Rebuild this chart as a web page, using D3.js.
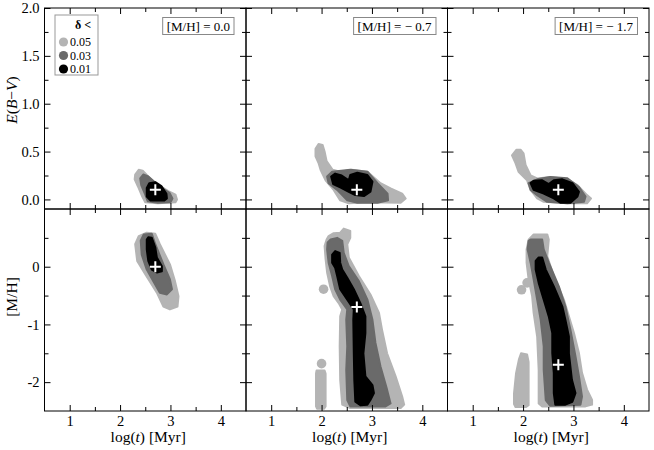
<!DOCTYPE html>
<html><head><meta charset="utf-8">
<script src="https://cdn.jsdelivr.net/npm/d3@7"></script>
<style>body{margin:0;background:#fff}svg{display:block}text{font-family:"Liberation Serif","DejaVu Serif",serif}</style>
</head><body><svg id="c" width="654" height="450"></svg>
<script>
// ---------- data ----------
const xTicks = [1, 2, 3, 4];
const xTickLabels = ["1", "2", "3", "4"];
const eTicks = [0.0, 0.5, 1.0, 1.5, 2.0];
const eTickLabels = ["0.0", "0.5", "1.0", "1.5", "2.0"];
const mTicks = [0, -1, -2];
const mTickLabels = ["0", "-1", "-2"];
const panelLabels = ["[M/H] = 0.0", "[M/H] = \u2212 0.7", "[M/H] = \u2212 1.7"];
const trueAge = [2.7, 2.7, 2.7];
const trueEBV = [0.1, 0.1, 0.1];
const trueMH = [0.0, -0.7, -1.7];
const legendLevels = ["0.05", "0.03", "0.01"];

// E(B-V) vs log t regions, outer outlines [logt, E(B-V)] per panel: [delta<0.05, <0.03, <0.01]
const ebvP1 = [
  [[2.30,0.26],[2.37,0.31],[2.45,0.30],[2.65,0.19],[2.95,0.09],[3.10,0.05],[3.13,0.00],[3.10,-0.03],[2.75,-0.04],[2.50,-0.03],[2.44,0.03],[2.36,0.13],[2.29,0.21]],
  [[2.40,0.22],[2.46,0.26],[2.56,0.24],[2.80,0.13],[2.98,0.07],[3.04,0.01],[3.00,-0.03],[2.75,-0.035],[2.55,-0.02],[2.50,0.05],[2.42,0.15]],
  [[2.53,0.12],[2.58,0.17],[2.70,0.18],[2.82,0.14],[2.92,0.06],[2.93,0.01],[2.88,-0.01],[2.60,-0.01],[2.53,0.03]]
];
const ebvP2 = [
  [[1.88,0.53],[1.94,0.58],[2.02,0.57],[2.06,0.50],[2.10,0.40],[2.22,0.31],[2.37,0.29],[2.60,0.31],[2.91,0.29],[3.17,0.17],[3.37,0.115],[3.60,0.06],[3.67,0.01],[3.57,-0.035],[2.91,-0.03],[2.54,-0.04],[2.37,-0.01],[2.24,0.10],[2.08,0.20],[1.98,0.31],[1.94,0.38],[1.88,0.45]],
  [[2.11,0.24],[2.21,0.29],[2.57,0.31],[2.91,0.29],[3.11,0.17],[3.31,0.06],[3.32,-0.01],[3.11,-0.035],[2.71,-0.035],[2.51,-0.01],[2.31,0.10],[2.14,0.17]],
  [[2.19,0.24],[2.27,0.27],[2.40,0.25],[2.54,0.20],[2.57,0.255],[2.71,0.28],[2.91,0.255],[3.01,0.185],[2.97,0.08],[2.84,0.035],[2.67,0.045],[2.54,0.08],[2.37,0.125],[2.23,0.16]]
];
const ebvP3 = [
  [[1.78,0.46],[1.87,0.52],[1.95,0.52],[2.01,0.48],[2.05,0.36],[2.15,0.25],[2.28,0.22],[2.54,0.235],[2.88,0.21],[3.08,0.15],[3.27,0.045],[3.35,0.01],[3.27,-0.04],[2.88,-0.04],[2.41,-0.025],[2.28,0.01],[2.15,0.10],[2.08,0.20],[1.91,0.29],[1.85,0.38]],
  [[2.11,0.17],[2.28,0.21],[2.54,0.235],[2.88,0.22],[3.11,0.13],[3.24,0.03],[3.21,-0.025],[2.88,-0.04],[2.48,-0.025],[2.28,0.045],[2.15,0.10]],
  [[2.15,0.17],[2.21,0.195],[2.38,0.20],[2.51,0.16],[2.61,0.20],[2.78,0.21],[2.98,0.17],[3.11,0.08],[3.08,0.03],[2.94,-0.035],[2.74,-0.035],[2.61,0.01],[2.41,0.06],[2.21,0.10]]
];
// [M/H] vs log t regions
const mhP1 = [
  [[2.30,0.39],[2.37,0.53],[2.53,0.59],[2.70,0.57],[2.79,0.39],[2.99,0.04],[3.09,-0.25],[3.16,-0.51],[3.14,-0.69],[2.99,-0.74],[2.86,-0.69],[2.73,-0.45],[2.50,-0.13],[2.34,0.10]],
  [[2.41,0.45],[2.47,0.56],[2.63,0.57],[2.70,0.39],[2.86,0.04],[2.99,-0.22],[3.03,-0.39],[2.93,-0.48],[2.79,-0.45],[2.66,-0.25],[2.53,-0.05],[2.43,0.21]],
  [[2.53,0.47],[2.56,0.51],[2.63,0.50],[2.70,0.33],[2.73,0.16],[2.83,0.01],[2.83,-0.08],[2.73,-0.10],[2.63,-0.05],[2.56,0.10],[2.53,0.30]]
];
const mhP2 = [
  [[2.10,0.47],[2.14,0.53],[2.24,0.58],[2.37,0.59],[2.44,0.66],[2.57,0.62],[2.57,0.50],[2.51,0.39],[2.54,0.16],[2.74,-0.16],[2.97,-0.48],[3.14,-0.80],[3.20,-1.09],[3.30,-1.50],[3.47,-1.90],[3.60,-2.25],[3.64,-2.39],[3.57,-2.45],[2.57,-2.45],[2.41,-2.39],[2.37,-1.96],[2.36,-1.38],[2.37,-0.86],[2.41,-0.74],[2.34,-0.63],[2.24,-0.51],[2.17,-0.34],[2.11,-0.10],[2.08,0.13],[2.06,0.36]],
  [[2.12,0.42],[2.18,0.47],[2.31,0.50],[2.41,0.45],[2.44,0.24],[2.54,0.01],[2.74,-0.25],[2.91,-0.57],[3.01,-0.92],[3.07,-1.32],[3.17,-1.73],[3.30,-2.13],[3.37,-2.37],[3.27,-2.42],[2.57,-2.42],[2.51,-2.31],[2.49,-1.79],[2.51,-1.38],[2.49,-0.92],[2.51,-0.74],[2.37,-0.57],[2.27,-0.39],[2.21,-0.16],[2.14,0.07],[2.11,0.30]],
  [[2.21,0.21],[2.27,0.27],[2.36,0.24],[2.37,0.07],[2.41,-0.05],[2.51,-0.19],[2.64,-0.39],[2.77,-0.63],[2.87,-0.86],[2.87,-1.15],[2.83,-1.50],[2.87,-1.90],[3.01,-2.05],[3.04,-2.19],[2.97,-2.31],[2.91,-2.39],[2.77,-2.40],[2.67,-2.34],[2.65,-1.96],[2.64,-1.50],[2.63,-0.92],[2.64,-0.74],[2.51,-0.57],[2.37,-0.39],[2.31,-0.16],[2.27,-0.02],[2.21,0.07]]
];
const mhP3 = [
  [[2.07,0.30],[2.11,0.47],[2.21,0.56],[2.48,0.56],[2.51,0.47],[2.48,0.18],[2.61,-0.16],[2.81,-0.57],[2.91,-0.86],[3.01,-1.15],[3.11,-1.50],[3.17,-1.84],[3.27,-2.13],[3.37,-2.31],[3.37,-2.39],[3.24,-2.42],[2.38,-2.42],[2.31,-2.37],[2.31,-1.79],[2.28,-1.21],[2.21,-0.80],[2.18,-0.51],[2.11,-0.22],[2.07,0.07]],
  [[2.11,0.45],[2.15,0.47],[2.38,0.47],[2.41,0.30],[2.51,0.07],[2.71,-0.34],[2.84,-0.69],[2.94,-1.09],[3.04,-1.55],[3.11,-1.90],[3.17,-2.25],[3.14,-2.39],[2.54,-2.41],[2.45,-2.31],[2.41,-1.79],[2.41,-1.38],[2.35,-0.92],[2.28,-0.57],[2.21,-0.22],[2.15,0.07],[2.09,0.30]],
  [[2.25,0.10],[2.31,0.16],[2.38,0.16],[2.45,-0.05],[2.61,-0.34],[2.78,-0.69],[2.84,-0.92],[2.91,-1.21],[2.91,-1.50],[2.97,-1.96],[3.04,-2.19],[2.98,-2.34],[2.84,-2.39],[2.64,-2.39],[2.61,-2.19],[2.61,-1.84],[2.58,-1.50],[2.58,-1.15],[2.51,-0.86],[2.41,-0.57],[2.31,-0.28],[2.25,-0.05]]
];
// isolated light (delta<0.05) patches in the [M/H] panels
const mhP2Extra = [
  [[1.90,-1.80],[2.06,-1.80],[2.08,-1.85],[2.08,-2.42],[2.05,-2.46],[1.91,-2.46],[1.89,-2.42],[1.89,-1.85]]
];
const mhP3Extra = [
  [[1.96,-1.50],[2.08,-1.52],[2.11,-1.65],[2.11,-2.40],[2.06,-2.43],[1.85,-2.43],[1.82,-2.38],[1.82,-2.20],[1.86,-1.85],[1.92,-1.60]]
];
const mhP2Dots = [[2.04,-0.39],[2.00,-1.68]];
const mhP3Dots = [[1.97,-0.40],[2.08,-0.28]];

// ---------- drawing ----------
const svg = d3.select("#c");
const fills = ["#b4b4b4", "#6a6a6a", "#000000"];
const panelX = [44.5, 246, 447.5], pw = 201.5;
const yTop0 = 8, yMid = 209, yBot = 411;
const yE = d3.scaleLinear().domain([-0.1, 2.0]).range([yMid, yTop0]);
const yM = d3.scaleLinear().domain([-2.5, 1.0]).range([yBot, yMid]);
const xs = panelX.map(px => d3.scaleLinear().domain([0.5, 4.5]).range([px, px + pw]));
const ebv = [ebvP1, ebvP2, ebvP3], mh = [mhP1, mhP2, mhP3];
const extras = [[], mhP2Extra, mhP3Extra], dots = [[], mhP2Dots, mhP3Dots];

function drawRegions(g, x, y, regions, extraPolys, extraDots) {
  const line = d3.line().x(d => x(d[0])).y(d => y(d[1])).curve(d3.curveLinearClosed);
  (extraPolys || []).forEach(p => g.append("path").attr("d", line(p)).attr("fill", fills[0]).attr("stroke", fills[0]).attr("stroke-width", 2).attr("stroke-linejoin", "round"));
  (extraDots || []).forEach(d => g.append("circle").attr("cx", x(d[0])).attr("cy", y(d[1])).attr("r", 4.8).attr("fill", fills[0]));
  regions.forEach((p, i) => g.append("path").attr("d", line(p)).attr("fill", fills[i]).attr("stroke", fills[i]).attr("stroke-width", 2).attr("stroke-linejoin", "round"));
}
function plus(g, x, y, a, b) {
  const cx = x(a), cy = y(b);
  g.append("path").attr("d", `M${cx-5.5},${cy}H${cx+5.5}M${cx},${cy-5.5}V${cy+5.5}`).attr("stroke", "#fff").attr("stroke-width", 2);
}
function axes(g, x, y, yMajor, yMinor, yLabels, showY, showX) {
  const y0 = y.range()[1], y1 = y.range()[0];
  const x0 = x.range()[0], x1 = x.range()[1];
  const xMinor = [1.5, 2.5, 3.5];
  const mk = (ax, sel) => { sel.call(ax); sel.select(".domain").remove(); sel.selectAll("line").attr("stroke", "#000"); sel.selectAll("text").attr("font-size", 14.5).attr("fill", "#000").attr("font-family", "Liberation Serif, serif"); };
  mk(d3.axisBottom(x).tickValues(xTicks).tickSize(-6).tickPadding(5).tickFormat((d, i) => showX ? xTickLabels[i] : ""), g.append("g").attr("transform", `translate(0,${y1})`));
  mk(d3.axisBottom(x).tickValues(xMinor).tickSize(-4).tickFormat(""), g.append("g").attr("transform", `translate(0,${y1})`));
  mk(d3.axisTop(x).tickValues(xTicks).tickSize(-6).tickFormat(""), g.append("g").attr("transform", `translate(0,${y0})`));
  mk(d3.axisTop(x).tickValues(xMinor).tickSize(-4).tickFormat(""), g.append("g").attr("transform", `translate(0,${y0})`));
  mk(d3.axisLeft(y).tickValues(yMajor).tickSize(-6).tickPadding(5).tickFormat((d, i) => showY ? yLabels[i] : ""), g.append("g").attr("transform", `translate(${x0},0)`));
  mk(d3.axisLeft(y).tickValues(yMinor).tickSize(-4).tickFormat(""), g.append("g").attr("transform", `translate(${x0},0)`));
  mk(d3.axisRight(y).tickValues(yMajor).tickSize(-6).tickFormat(""), g.append("g").attr("transform", `translate(${x1},0)`));
  mk(d3.axisRight(y).tickValues(yMinor).tickSize(-4).tickFormat(""), g.append("g").attr("transform", `translate(${x1},0)`));
  g.append("rect").attr("x", x0).attr("y", y0).attr("width", x1 - x0).attr("height", y1 - y0).attr("fill", "none").attr("stroke", "#000").attr("stroke-width", 1);
}

const eMinor = [0.25, 0.75, 1.25, 1.75];
const mMinor = [0.5, -0.5, -1.5];
for (let p = 0; p < 3; p++) {
  const x = xs[p];
  const gt = svg.append("g"), gb = svg.append("g");
  drawRegions(gt, x, yE, ebv[p], [], []);
  plus(gt, x, yE, trueAge[p], trueEBV[p]);
  drawRegions(gb, x, yM, mh[p], extras[p], dots[p]);
  plus(gb, x, yM, trueAge[p], trueMH[p]);
  axes(gt, x, yE, eTicks, eMinor, eTickLabels, p === 0, false);
  axes(gb, x, yM, mTicks, mMinor, mTickLabels, p === 0, true);
  // panel annotation box
  const right = x.range()[1] - 12;
  const ga = svg.append("g");
  const rect = ga.append("rect");
  const t = ga.append("text").attr("x", right - 4).attr("y", 30.5).attr("text-anchor", "end").attr("font-size", 13).text(panelLabels[p]);
  const bb = t.node().getBBox();
  rect.attr("x", bb.x - 4).attr("y", 17.5).attr("width", bb.width + 8).attr("height", 17).attr("fill", "#fff").attr("stroke", "#888").attr("stroke-width", 1);
  // x label
  const xl = gb.append("text").attr("x", (x.range()[0] + x.range()[1]) / 2 + 3).attr("y", 442).attr("text-anchor", "middle").attr("font-size", 15.5);
  xl.append("tspan").text("log(");
  xl.append("tspan").attr("font-style", "italic").text("t");
  xl.append("tspan").text(") [Myr]");
}

// y labels
const yl1 = svg.append("text").attr("transform", "translate(17,100) rotate(-90)").attr("text-anchor", "middle").attr("font-size", 15.5);
yl1.append("tspan").attr("font-style", "italic").text("E");
yl1.append("tspan").text("(");
yl1.append("tspan").attr("font-style", "italic").text("B");
yl1.append("tspan").text("\u2212");
yl1.append("tspan").attr("font-style", "italic").text("V");
yl1.append("tspan").text(")");
svg.append("text").attr("transform", "translate(17,297) rotate(-90)").attr("text-anchor", "middle").attr("font-size", 15.5).text("[M/H]");

// legend
const lg = svg.append("g");
lg.append("rect").attr("x", 55).attr("y", 15).attr("width", 43).attr("height", 60).attr("fill", "#fff").attr("stroke", "#999").attr("stroke-width", 1);
lg.append("text").attr("x", 91).attr("y", 29).attr("text-anchor", "end").attr("font-size", 12).attr("font-weight", "bold").text("\u03b4 <");
legendLevels.forEach((lv, i) => {
  const cy = 42 + i * 13.5;
  lg.append("circle").attr("cx", 63.5).attr("cy", cy).attr("r", 4.6).attr("fill", fills[i]);
  lg.append("text").attr("x", 70).attr("y", cy + 4.2).attr("font-size", 12).text(lv);
});
</script></body></html>
